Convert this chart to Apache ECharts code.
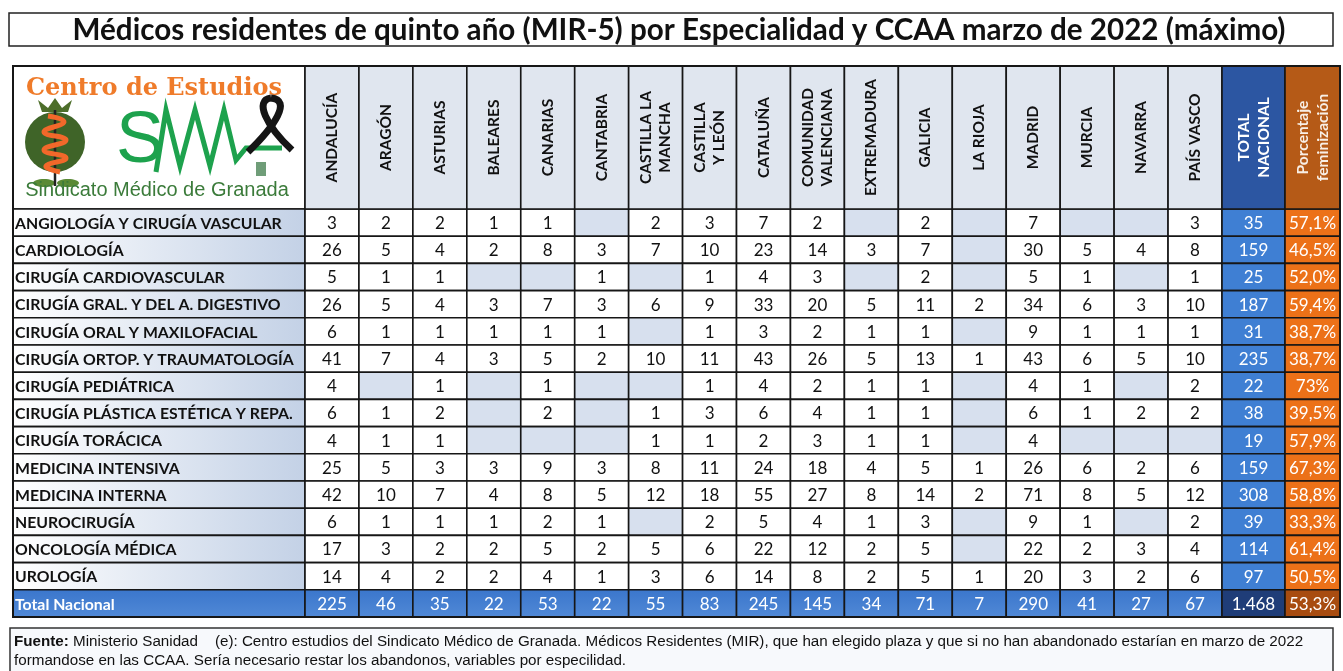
<!DOCTYPE html>
<html><head><meta charset="utf-8">
<script src="https://cdn.jsdelivr.net/npm/echarts/dist/echarts.min.js"></script>
<style>html,body{margin:0;padding:0;background:#fff}#c{width:1343px;height:671px}</style>
</head><body><div id="c"></div><script>
const titleText = 'Médicos residentes de quinto año (MIR-5) por Especialidad y CCAA marzo de 2022 (máximo)';
const regions = ['ANDALUCÍA','ARAGÓN','ASTURIAS','BALEARES','CANARIAS','CANTABRIA','CASTILLA LA\nMANCHA','CASTILLA\nY LEÓN','CATALUÑA','COMUNIDAD\nVALENCIANA','EXTREMADURA','GALICIA','LA RIOJA','MADRID','MURCIA','NAVARRA','PAÍS VASCO'];
const specialties = ['ANGIOLOGÍA Y CIRUGÍA VASCULAR','CARDIOLOGÍA','CIRUGÍA CARDIOVASCULAR','CIRUGÍA GRAL. Y DEL A. DIGESTIVO','CIRUGÍA ORAL Y MAXILOFACIAL','CIRUGÍA ORTOP. Y TRAUMATOLOGÍA','CIRUGÍA PEDIÁTRICA','CIRUGÍA PLÁSTICA ESTÉTICA Y REPA.','CIRUGÍA TORÁCICA','MEDICINA INTENSIVA','MEDICINA INTERNA','NEUROCIRUGÍA','ONCOLOGÍA MÉDICA','UROLOGÍA'];
const totalRowLabel = 'Total Nacional';
const totalHeader = 'TOTAL\nNACIONAL';
const pctHeader = 'Porcentaje\nfeminización';
// counts[specialty][region]; null = empty cell
const counts = [
  [3,2,2,1,1,null,2,3,7,2,null,2,null,7,null,null,3],
  [26,5,4,2,8,3,7,10,23,14,3,7,null,30,5,4,8],
  [5,1,1,null,null,1,null,1,4,3,null,2,null,5,1,null,1],
  [26,5,4,3,7,3,6,9,33,20,5,11,2,34,6,3,10],
  [6,1,1,1,1,1,null,1,3,2,1,1,null,9,1,1,1],
  [41,7,4,3,5,2,10,11,43,26,5,13,1,43,6,5,10],
  [4,null,1,null,1,null,null,1,4,2,1,1,null,4,1,null,2],
  [6,1,2,null,2,null,1,3,6,4,1,1,null,6,1,2,2],
  [4,1,1,null,null,null,1,1,2,3,1,1,null,4,null,null,null],
  [25,5,3,3,9,3,8,11,24,18,4,5,1,26,6,2,6],
  [42,10,7,4,8,5,12,18,55,27,8,14,2,71,8,5,12],
  [6,1,1,1,2,1,null,2,5,4,1,3,null,9,1,null,2],
  [17,3,2,2,5,2,5,6,22,12,2,5,null,22,2,3,4],
  [14,4,2,2,4,1,3,6,14,8,2,5,1,20,3,2,6]
];
const totalBySpecialty = [35,159,25,187,31,235,22,38,19,159,308,39,114,97];
const pctFeminization = ['57,1%','46,5%','52,0%','59,4%','38,7%','38,7%','73%','39,5%','57,9%','67,3%','58,8%','33,3%','61,4%','50,5%'];
const totalByRegion = [225,46,35,22,53,22,55,83,245,145,34,71,7,290,41,27,67];
const grandTotal = '1.468';
const grandPct = '53,3%';
const footerLine1 = '{b|Fuente:} Ministerio Sanidad    (e): Centro estudios del Sindicato Médico de Granada. Médicos Residentes (MIR), que han elegido plaza y que si no han abandonado estarían en marzo de 2022';
const footerLine2 = 'formandose en las CCAA. Sería necesario restar los abandonos, variables por especilidad.';

const FONT = 'Lato, "Noto Sans", sans-serif';
const NARROW = '"Liberation Sans Narrow", "Arial Narrow", sans-serif';
const BORDER = '#161616';
const rowNames = specialties.concat([totalRowLabel]);

const labelGrad = { type: 'linear', x: 0, y: 0, x2: 1, y2: 0, colorStops: [{offset:0,color:'#ffffff'},{offset:1,color:'#c3d1e6'}] };
const blueRow = { type: 'linear', x: 0, y: 0, x2: 0, y2: 1, colorStops: [{offset:0,color:'#3a76cc'},{offset:1,color:'#5189d6'}] };
const EMPTY = '#d7e0ee';

function cellSeries(gridIndex, items) {
  return {
    type: 'custom', coordinateSystem: 'cartesian2d',
    xAxisIndex: gridIndex, yAxisIndex: gridIndex,
    data: items.map(it => [it.x, it.y]),
    silent: true,
    renderItem: function (params, api) {
      const it = items[params.dataIndex];
      const c = api.coord([api.value(0), api.value(1)]);
      const s = api.size([1, 1]);
      const x0 = c[0] - s[0] / 2, y0 = c[1] - s[1] / 2;
      const children = [{
        type: 'rect',
        shape: { x: x0, y: y0, width: s[0], height: s[1] },
        style: { fill: it.fill, stroke: BORDER, lineWidth: 1.6 }
      }];
      if (it.text !== '' && it.text != null) {
        const t = {
          type: 'text',
          style: {
            text: String(it.text), fill: it.color || '#111',
            font: (it.weight || 'normal') + ' ' + (it.size || 17) + 'px ' + FONT,
            align: it.align || 'center', verticalAlign: 'middle',
            lineHeight: it.lineHeight || 17
          }
        };
        if (it.rot) {
          t.x = c[0]; t.y = c[1]; t.rotation = Math.PI / 2;
        } else if (it.align === 'left') {
          t.x = x0 + 2; t.y = c[1] + 1;
        } else {
          t.x = c[0]; t.y = c[1] + 1;
        }
        children.push(t);
      }
      return { type: 'group', children: children };
    }
  };
}

const labelItems = rowNames.map((n, i) => ({
  x: 0, y: i, text: n,
  fill: i === specialties.length ? blueRow : labelGrad,
  color: i === specialties.length ? '#ffffff' : '#111',
  weight: 'bold', size: 15.8, align: 'left'
}));
const dataItems = [];
counts.forEach((row, r) => row.forEach((v, c) => {
  dataItems.push({ x: c, y: r, text: v == null ? '' : v, fill: v == null ? EMPTY : '#ffffff' });
}));
totalByRegion.forEach((v, c) => dataItems.push({ x: c, y: specialties.length, text: v, fill: blueRow, color: '#ffffff' }));
const totalItems = totalBySpecialty.map((v, r) => ({ x: 0, y: r, text: v, fill: '#3f7fd3', color: '#ffffff' }));
totalItems.push({ x: 0, y: specialties.length, text: grandTotal, fill: '#1f3d78', color: '#ffffff' });
const pctItems = pctFeminization.map((v, r) => ({ x: 0, y: r, text: v, fill: '#ec7118', color: '#ffffff' }));
pctItems.push({ x: 0, y: specialties.length, text: grandPct, fill: '#a84c10', color: '#ffffff' });
const headItems = regions.map((n, c) => ({ x: c, y: 0, text: n, fill: '#e0e6ef', weight: 'bold', size: 15.5, rot: true, lineHeight: 19 }));
const headTotal = [{ x: 0, y: 0, text: totalHeader, fill: '#2c56a2', color: '#ffffff', weight: 'bold', size: 15.5, rot: true, lineHeight: 20 }];
const headPct = [{ x: 0, y: 0, text: pctHeader, fill: '#b55a17', color: '#f8efe6', weight: 'bold', size: 15.5, rot: true, lineHeight: 20 }];

const rowIdx = rowNames.map((_, i) => String(i));
const grids = [
  { left: 13, top: 209, width: 292, height: 408 },
  { left: 305, top: 209, width: 917, height: 408 },
  { left: 1222, top: 209, width: 63, height: 408 },
  { left: 1285, top: 209, width: 55, height: 408 },
  { left: 305, top: 66, width: 917, height: 143 },
  { left: 1222, top: 66, width: 63, height: 143 },
  { left: 1285, top: 66, width: 55, height: 143 }
];
const xCats = [['l'], regions, ['t'], ['p'], regions, ['t'], ['p']];
const yCats = [rowIdx, rowIdx, rowIdx, rowIdx, ['h'], ['h'], ['h']];

const option = {
  animation: false,
  backgroundColor: '#ffffff',
  grid: grids.map(g => Object.assign({ containLabel: false }, g)),
  xAxis: xCats.map((d, i) => ({ type: 'category', gridIndex: i, data: d, show: false })),
  yAxis: yCats.map((d, i) => ({ type: 'category', gridIndex: i, data: d, inverse: true, show: false })),
  series: [
    cellSeries(0, labelItems),
    cellSeries(1, dataItems),
    cellSeries(2, totalItems),
    cellSeries(3, pctItems),
    cellSeries(4, headItems),
    cellSeries(5, headTotal),
    cellSeries(6, headPct)
  ],
  graphic: [
    { type: 'rect', shape: { x: 9, y: 13, width: 1324, height: 33 }, style: { fill: '#fff', stroke: '#222', lineWidth: 1.5 } },
    { type: 'text', x: 679, y: 30, style: { text: titleText, font: 'bold 29.6px ' + FONT, fill: '#111', align: 'center', verticalAlign: 'middle' } },
    { type: 'rect', shape: { x: 13, y: 66, width: 292, height: 143 }, style: { fill: '#ffffff', stroke: BORDER, lineWidth: 1.6 } },
    { type: 'text', x: 154, y: 89, style: { text: 'Centro de Estudios', font: 'bold 24px "DejaVu Serif", "Liberation Serif", serif', fill: '#ef7b2a', align: 'center', verticalAlign: 'middle' } },
    { type: 'polygon', shape: { points: [[42,112],[38,100],[48,108],[55,98],[62,108],[72,100],[68,112]] }, style: { fill: '#4d6e2a' } },
    { type: 'circle', shape: { cx: 55, cy: 142, r: 30 }, style: { fill: '#3f6428' } },
    { type: 'ellipse', shape: { cx: 44, cy: 183, rx: 11, ry: 4 }, style: { fill: '#5a8a35' } },
    { type: 'ellipse', shape: { cx: 68, cy: 183, rx: 11, ry: 4 }, style: { fill: '#5a8a35' } },
    { type: 'line', shape: { x1: 55, y1: 110, x2: 55, y2: 186 }, style: { stroke: '#222', lineWidth: 2.5 } },
    { type: 'polyline', shape: { points: [[48,116],[64,122],[44,132],[66,140],[44,150],[66,158],[46,166],[60,172]], smooth: 0.5 }, style: { stroke: '#f2682a', lineWidth: 5, fill: null } },
    { type: 'text', x: 116, y: 142, style: { text: 'S', font: '72px "Liberation Sans", sans-serif', fill: '#1da24d', align: 'left', verticalAlign: 'middle' } },
    { type: 'polyline', shape: { points: [[156,172],[166,110],[180,166],[195,110],[210,166],[224,110],[236,160],[246,148],[282,148]] }, style: { stroke: '#1da24d', lineWidth: 5, fill: null } },
    { type: 'bezierCurve', shape: { x1: 248, y1: 152, cpx1: 275, cpy1: 126, cpx2: 292, cpy2: 100, x2: 271, y2: 98 }, style: { stroke: '#151515', lineWidth: 7, fill: null } },
    { type: 'bezierCurve', shape: { x1: 271, y1: 98, cpx1: 254, cpy1: 100, cpx2: 266, cpy2: 126, x2: 292, y2: 150 }, style: { stroke: '#151515', lineWidth: 7, fill: null } },
    { type: 'rect', shape: { x: 256, y: 162, width: 10, height: 14 }, style: { fill: '#6f9d78' } },
    { type: 'text', x: 157, y: 190, style: { text: 'Sindicato Médico de Granada', font: '20px "Liberation Sans", Arial, sans-serif', fill: '#3b7b3a', align: 'center', verticalAlign: 'middle' } },
    { type: 'rect', shape: { x: 13, y: 66, width: 1327, height: 551 }, style: { fill: null, stroke: BORDER, lineWidth: 2 }, z: 100 },
    { type: 'rect', shape: { x: 10, y: 628, width: 1323, height: 50 }, style: { fill: '#f7f9fc', stroke: '#333', lineWidth: 1.5 } },
    { type: 'text', x: 14, y: 642, style: { text: footerLine1, font: '15.2px ' + NARROW, fill: '#111', align: 'left', verticalAlign: 'middle', rich: { b: { fontWeight: 'bold', fill: '#111', fontSize: 15.2, fontFamily: NARROW } } } },
    { type: 'text', x: 14, y: 661, style: { text: footerLine2, font: '15.2px ' + NARROW, fill: '#111', align: 'left', verticalAlign: 'middle' } }
  ]
};
const chart = echarts.init(document.getElementById('c'), null, { renderer: 'canvas' });
chart.setOption(option);
</script></body></html>
